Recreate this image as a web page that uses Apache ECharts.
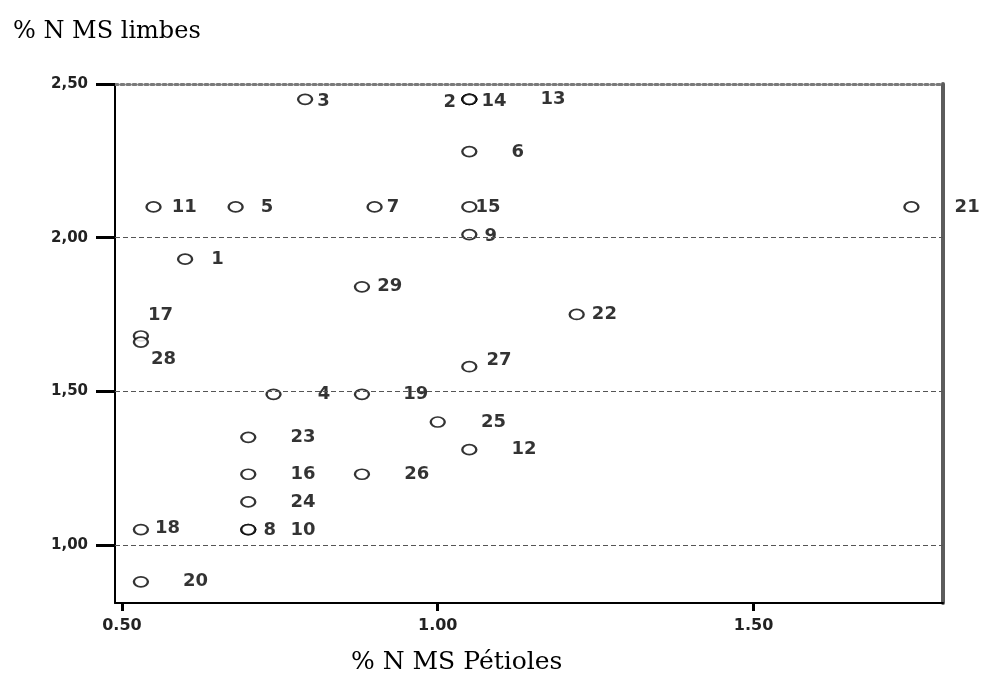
<!DOCTYPE html>
<html>
<head>
<meta charset="utf-8">
<script src="https://cdn.jsdelivr.net/npm/echarts@6/dist/echarts.min.js"></script>
<style>html,body{margin:0;padding:0;background:#fff}#c{width:986px;height:682px}</style>
</head>
<body>
<div id="c"></div>
<script>
// ---- data ----
const ids      = ['3','2','14','13','6','11','5','7','15','21','9','1','29','17','28','22','27','4','19','25','12','23','16','26','24','8','10','18','20'];
const petioles = [0.79,1.05,1.05,1.05,1.05,0.55,0.68,0.90,1.05,1.75,1.05,0.60,0.88,0.53,0.53,1.22,1.05,0.74,0.88,1.00,1.05,0.70,0.70,0.88,0.70,0.70,0.70,0.53,0.53];
const limbes   = [2.45,2.45,2.45,2.45,2.28,2.10,2.10,2.10,2.10,2.10,2.01,1.93,1.84,1.68,1.66,1.75,1.58,1.49,1.49,1.40,1.31,1.35,1.23,1.23,1.14,1.05,1.05,1.05,0.88];
const xTicks = [0.5, 1.0, 1.5];
const yTicks = [1.0, 1.5, 2.0, 2.5];
const gridLines = [1.0, 1.5, 2.0];

// ---- label layout (style only) ----
const labelDx = {'3':11,'2':-12,'14':11,'13':70,'6':41,'11':17,'5':24,'7':11,'15':5,'21':42,'9':14,'1':25,'29':14,'17':6,'28':9,'22':14,'27':16,'4':43,'19':40,'25':42,'12':41,'23':41,'16':41,'26':41,'24':41,'8':14,'10':41,'18':13,'20':41};
const labelDy = {'3':2,'2':3,'14':2,'13':0,'17':-21,'28':17,'27':-6,'9':2,'18':-1,'8':1,'10':1,'6':1};

const chart = echarts.init(document.getElementById('c'), null, {renderer:'canvas'});
const data = ids.map((id, i) => {
  const dx = labelDx[id] || 0, dy = labelDy[id] || 0;
  const lab = dx < 0
    ? {position:'left', distance:0, offset:[dx+7, dy]}
    : {position:'right', distance:0, offset:[dx-7, dy]};
  return {name:id, value:[petioles[i], limbes[i]], label: lab};
});

const fmtY = v => v.toFixed(2).replace('.', ',');
const fmtX = v => v.toFixed(2);

chart.setOption({
  animation:false,
  backgroundColor:'#fff',
  title:[
    {text:'% N MS limbes', left:8, top:15, textStyle:{fontFamily:'DejaVu Serif', fontWeight:'normal', fontSize:24, color:'#000'}},
    {text:'% N MS Pétioles', left:346, top:645, textStyle:{fontFamily:'DejaVu Serif', fontWeight:'normal', fontSize:25, color:'#000'}}
  ],
  grid:{left:115, right:43, top:84, bottom:79},
  xAxis:[
    {type:'value', min:0.489, max:1.80, position:'bottom',
     axisLine:{show:true, onZero:false, lineStyle:{color:'#000', width:2}},
     axisTick:{show:true, customValues:xTicks, length:8, lineStyle:{color:'#000', width:3}},
     axisLabel:{customValues:xTicks, formatter:fmtX, margin:15, fontFamily:'DejaVu Sans', fontWeight:'bold', fontSize:16, color:'#222'},
     splitLine:{show:false}},
    {type:'value', min:0.489, max:1.80, position:'top',
     axisLine:{show:true, onZero:false, lineStyle:{color:'#7a7a7a', width:3, type:'dotted'}},
     axisTick:{show:false}, axisLabel:{show:false}, splitLine:{show:false}}
  ],
  yAxis:[
    {type:'value', min:0.811, max:2.50, position:'left',
     axisLine:{show:true, onZero:false, lineStyle:{color:'#000', width:2}},
     axisTick:{show:true, customValues:yTicks, length:19, lineStyle:{color:'#000', width:3}},
     axisLabel:{customValues:yTicks, formatter:fmtY, margin:27, fontFamily:'DejaVu Sans', fontWeight:'bold', fontSize:15, color:'#222'},
     splitLine:{show:false}},
    {type:'value', min:0.811, max:2.50, position:'right',
     axisLine:{show:true, onZero:false, lineStyle:{color:'#5c5c5c', width:4}},
     axisTick:{show:false}, axisLabel:{show:false}, splitLine:{show:false}}
  ],
  series:[{
    type:'scatter',
    xAxisIndex:0, yAxisIndex:0,
    symbol:'emptyCircle',
    symbolSize:[14,10],
    itemStyle:{color:'#000', borderColor:'#000', borderWidth:2},
    label:{show:true, formatter:'{b}', fontFamily:'DejaVu Sans', fontWeight:'bold', fontSize:18, color:'#000'},
    data:data,
    markLine:{
      silent:true, symbol:['none','none'], label:{show:false},
      lineStyle:{color:'#555', width:1.2, type:[5,3]},
      data: gridLines.map(v => ({yAxis:v}))
    },
    z:3
  }]
});
</script>
</body>
</html>
